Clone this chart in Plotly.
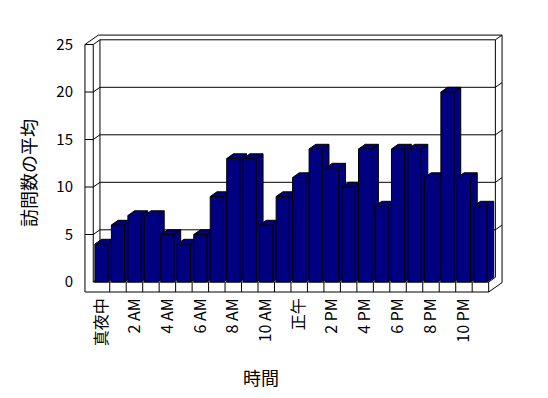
import plotly.graph_objects as go

# ---- data ----
categories = ["真夜中", "1 AM", "2 AM", "3 AM", "4 AM", "5 AM", "6 AM", "7 AM",
              "8 AM", "9 AM", "10 AM", "11 AM", "正午", "1 PM", "2 PM", "3 PM",
              "4 PM", "5 PM", "6 PM", "7 PM", "8 PM", "9 PM", "10 PM", "11 PM"]
visits = [4, 6, 7, 7, 5, 4, 5, 9, 13, 13, 6, 9, 11, 14, 12, 10, 14, 8, 14, 14, 11, 20, 11, 8]
x_tick_labels = ["真夜中", "2 AM", "4 AM", "6 AM", "8 AM", "10 AM", "正午",
                 "2 PM", "4 PM", "6 PM", "8 PM", "10 PM"]
y_ticks = [0, 5, 10, 15, 20, 25]
x_title = "時間"
y_title = "訪問数の平均"

# ---- style (3D box geometry in axis units) ----
NAVY = "#000080"
FONT = "Noto Sans CJK JP"
BAR_W = 0.8
DX, DY = 0.4067, 0.4947      # depth offset
TW, FB = 0.504, 1.0526       # wall / floor thickness

n = len(categories)
xpos = list(range(n))
tick_pos = [xpos[categories.index(t)] for t in x_tick_labels]
L, R, T = -0.5, n - 0.5, y_ticks[-1]

fig = go.Figure()


def add_lines(segs, color="black"):
    xs, ys = [], []
    for s in segs:
        for (a, b) in s:
            xs.append(a)
            ys.append(b)
        xs.append(None)
        ys.append(None)
    fig.add_trace(go.Scatter(x=xs, y=ys, mode="lines",
                             line=dict(color=color, width=1),
                             hoverinfo="skip", showlegend=False))


# walls behind the bars
segs = []
segs.append([(L + DX, DY), (L + DX, T + DY), (R + DX, T + DY), (R + DX, DY)])
for v in y_ticks[1:-1]:
    segs.append([(L - TW, v), (L, v), (L + DX, v + DY), (R + DX, v + DY),
                 (R + 2 * DX, v + 2 * DY)])
segs.append([(L - TW, -FB), (L - TW, T), (L, T), (L, 0)])
segs.append([(L - TW, T), (L - TW + 2 * DX, T + 2 * DY), (R + 2 * DX, T + 2 * DY),
             (R + 2 * DX, -FB + 2 * DY), (R, -FB)])
segs.append([(L, T), (L + DX, T + DY)])
segs.append([(R + DX, T + DY), (R + 2 * DX, T + 2 * DY)])
segs.append([(L, 0), (L + DX, DY)])
add_lines(segs)

# bars, left to right so that each bar hides the previous one's side
for x, h in zip(xpos, visits):
    x0, x1 = x - BAR_W / 2, x + BAR_W / 2
    sx = [x0, x1, x1 + DX, x1 + DX, x0 + DX, x0, x0]
    sy = [0, 0, DY, h + DY, h + DY, h, 0]
    fig.add_trace(go.Scatter(x=sx, y=sy, mode="lines", fill="toself",
                             fillcolor=NAVY, line=dict(color="black", width=1),
                             hoverinfo="skip", showlegend=False))
    fig.add_trace(go.Scatter(x=[x0, x1, x1, None, x1, x1 + DX],
                             y=[h, h, 0, None, h, h + DY], mode="lines",
                             line=dict(color="black", width=1),
                             hoverinfo="skip", showlegend=False))

# floor front face
segs = [[(L, 0), (R, 0), (R, -FB), (L - TW, -FB)],
        [(R, 0), (R + DX, DY)]]
for k in range(1, n):
    segs.append([(L + k, 0), (L + k, -FB)])
add_lines(segs)

fig.update_layout(
    width=548, height=398,
    margin=dict(l=82, r=43, t=32, b=103),
    paper_bgcolor="white", plot_bgcolor="white",
    font=dict(family=FONT, color="black"),
    xaxis=dict(range=[-1.1836, 24.492], showgrid=False, zeroline=False,
               showline=False, tickmode="array", tickvals=tick_pos,
               ticktext=x_tick_labels, tickangle=-90,
               tickfont=dict(size=16, family=FONT), ticklabelstandoff=-1),
    yaxis=dict(range=[-1.368, 26.316], showgrid=False, zeroline=False,
               showline=False, tickmode="array", tickvals=y_ticks,
               tickfont=dict(size=15, family=FONT), ticklabelstandoff=8),
    annotations=[
        dict(text=y_title, xref="paper", yref="paper", x=-0.1277, y=0.4639,
             xanchor="center", yanchor="middle", textangle=-90, showarrow=False,
             font=dict(size=18, family=FONT)),
        dict(text=x_title, xref="paper", yref="paper", x=0.422, y=-0.31,
             xanchor="center", yanchor="middle", showarrow=False,
             font=dict(size=18, family=FONT)),
    ],
)

fig.write_html("out.html")
